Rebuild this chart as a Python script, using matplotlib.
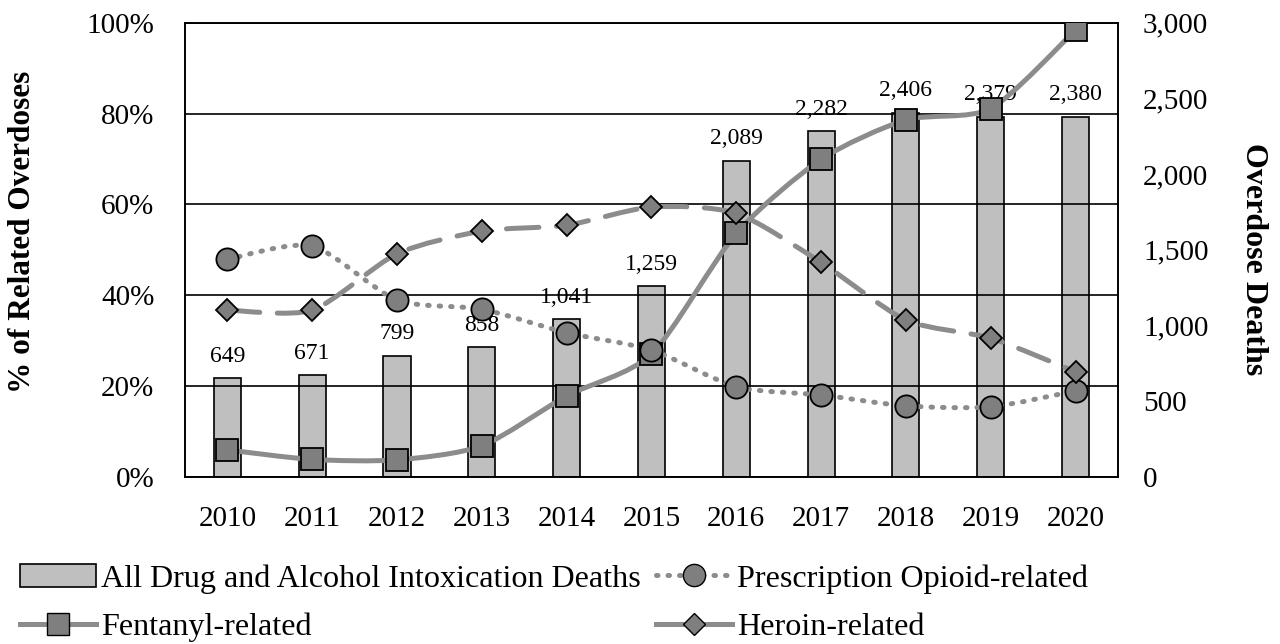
import numpy as np
import matplotlib
matplotlib.use('Agg')
import matplotlib.pyplot as plt
from matplotlib.path import Path
from matplotlib.patches import PathPatch, Patch
from matplotlib.lines import Line2D
from matplotlib.ticker import FuncFormatter

plt.rcParams['font.family'] = 'Liberation Serif'

years = [2010, 2011, 2012, 2013, 2014, 2015, 2016, 2017, 2018, 2019, 2020]
all_deaths = [649, 671, 799, 858, 1041, 1259, 2089, 2282, 2406, 2379, 2380]
fentanyl = [5.9, 3.8, 3.7, 6.8, 17.8, 27.0, 53.6, 69.9, 78.6, 81.1, 98.4]
prescription = [47.9, 50.8, 38.9, 36.9, 31.7, 27.9, 19.8, 18.0, 15.6, 15.4, 18.9]
heroin = [36.7, 36.7, 49.1, 54.1, 55.4, 59.4, 58.0, 47.2, 34.5, 30.5, 23.1]

LINE_C = '#8c8c8c'
MARK_C = '#7f7f7f'
BAR_C = '#bfbfbf'
DOT = (0, (0.3, 2.0))
DASH = (0, (6.5, 3.5))


def smooth_path(x, y, k=8.0):
    # smoothed line like the spreadsheet one: cubic bezier through the points
    pts = np.column_stack([x, y]).astype(float)
    n = len(pts)
    verts = [pts[0]]
    codes = [Path.MOVETO]
    for i in range(n - 1):
        p0 = pts[i - 1] if i > 0 else pts[i]
        p1 = pts[i]
        p2 = pts[i + 1]
        p3 = pts[i + 2] if i + 2 < n else pts[i + 1]
        c1 = p1 + (p2 - p0) / k
        c2 = p2 - (p3 - p1) / k
        verts += [c1, c2, p2]
        codes += [Path.CURVE4] * 3
    return Path(verts, codes)


fig = plt.figure(figsize=(12.8, 6.44), dpi=100)
ax = fig.add_axes([0.1445, 0.2598, 0.7289, 0.7049])
ax2 = ax.twinx()
# bars below, grid + lines above
ax2.set_zorder(0)
ax.set_zorder(1)
ax.patch.set_visible(False)

x = np.arange(len(years))
ax2.bar(x, all_deaths, 0.32, color=BAR_C, edgecolor='black', linewidth=1.2)
for xi, v in zip(x, all_deaths):
    ax2.text(xi, v + 75, f'{v:,}', ha='center', va='bottom', fontsize=17)
ax2.set_ylim(0, 3000)
ax2.set_yticks(np.arange(0, 3001, 500))
ax2.yaxis.set_major_formatter(FuncFormatter(lambda v, p: f'{int(v):,}'))

series = [
    (fentanyl, '-', 's', 15.5),
    (prescription, DOT, 'o', 16),
    (heroin, DASH, 'D', 11.5),
]
for vals, ls, mk, ms in series:
    patch = PathPatch(smooth_path(x, vals), facecolor='none', edgecolor=LINE_C,
                      linewidth=3.6, linestyle=ls, capstyle='round', zorder=3)
    ax.add_patch(patch)
    ax.plot(x, vals, linestyle='none', marker=mk, markersize=ms,
            markerfacecolor=MARK_C, markeredgecolor='black', markeredgewidth=1.3, zorder=4)

ax.set_xlim(-0.5, len(years) - 0.5)
ax.set_ylim(0, 100)
ax.set_yticks(np.arange(0, 101, 20))
ax.yaxis.set_major_formatter(FuncFormatter(lambda v, p: f'{int(v)}%'))
ax.set_xticks(x)
ax.set_xticklabels([str(y) for y in years])
ax.grid(axis='y', color='black', linewidth=1.2)
ax.set_axisbelow(False)
for a in (ax, ax2):
    a.tick_params(length=0, labelsize=21)
    for s in a.spines.values():
        s.set_linewidth(1.2)
ax.tick_params(axis='y', pad=22)
ax.tick_params(axis='x', pad=21)
ax2.tick_params(axis='y', pad=18)

ax.set_ylabel('% of Related Overdoses', fontsize=22.5, fontweight='bold', va='center')
ax.yaxis.set_label_coords(-0.1736, 0.54)
ax2.set_ylabel('Overdose Deaths', fontsize=23, fontweight='bold', rotation=270,
               va='center')
ax2.yaxis.set_label_coords(1.145, 0.48)

handles = [
    Patch(facecolor=BAR_C, edgecolor='black', linewidth=1.2),
    Line2D([], [], color=LINE_C, lw=3.6, ls='-', marker='s', markersize=15.5,
           markerfacecolor=MARK_C, markeredgecolor='black'),
    Line2D([], [], color=LINE_C, lw=3.6, ls=DOT, marker='o', markersize=16,
           markerfacecolor=MARK_C, markeredgecolor='black', dash_capstyle='round'),
    Line2D([], [], color=LINE_C, lw=3.6, ls='-', marker='D', markersize=11.5,
           markerfacecolor=MARK_C, markeredgecolor='black'),
]
labels = ['All Drug and Alcohol Intoxication Deaths', 'Fentanyl-related',
          'Prescription Opioid-related', 'Heroin-related']
fig.legend(handles, labels, loc='upper left', bbox_to_anchor=(0.016, 0.124), ncol=2,
           frameon=False, fontsize=23.1, handlelength=2.35, handletextpad=0.15,
           columnspacing=0.5, labelspacing=0.6, borderaxespad=0, borderpad=0)

fig.savefig('out.png', dpi=100)
